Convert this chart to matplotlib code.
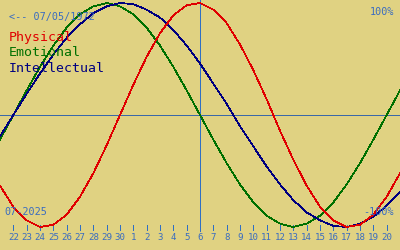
import matplotlib
matplotlib.use("Agg")
import matplotlib.pyplot as plt

# biorhythm values (%) for each day, June 21 .. July 21 2025
physical = [-63, -82, -94, -100, -98, -89, -73, -52, -27, 0,
            27, 52, 73, 89, 98, 100, 94, 82, 63, 40,
            14, -14, -40, -63, -82, -94, -100, -98, -89, -73, -52]
emotional = [-22, 0, 22, 43, 62, 78, 90, 97, 100, 97,
             90, 78, 62, 43, 22, 0, -22, -43, -62, -78,
             -90, -97, -100, -97, -90, -78, -62, -43, -22, 0, 22]
intellectual = [-19, 0, 19, 37, 54, 69, 81, 91, 97, 100,
                99, 94, 87, 76, 62, 46, 28, 10, -10, -28,
                -46, -62, -76, -87, -94, -99, -100, -97, -91, -81, -69]
day_labels = ["22", "23", "24", "25", "26", "27", "28", "29", "30",
              "1", "2", "3", "4", "5", "6", "7", "8", "9", "10",
              "11", "12", "13", "14", "15", "16", "17", "18", "19", "20"]
today = 15
birth = "07/05/1972"
month = "07-2025"

bg = "#e0d282"
txt_blue = "#3a6cc0"
W, H = 400, 250

plt.rcParams["font.family"] = "DejaVu Sans Mono"

fig = plt.figure(figsize=(4, 2.5), dpi=100)
fig.patch.set_facecolor(bg)
ax = fig.add_axes([0, 0, 1, 1])
ax.set_facecolor(bg)
ax.set_axis_off()

# pixel helpers: 0% at y=115, 100% = 112 px
def yv(py):
    return (115 - py) * 100 / 112

ax.set_xlim(0, 30)
ax.set_ylim(yv(250), yv(0))

days = list(range(len(physical)))
px = 0.5

ax.axhline(0, color="#3a68a8", lw=px, antialiased=False)
ax.vlines(today, yv(231), yv(0), color="#2f6fc4", lw=px, antialiased=False)
ticks = list(range(1, len(day_labels) + 1))
ax.vlines(ticks, yv(230), yv(225), color="#2f6fc4", lw=px, antialiased=False)
for t, lab in zip(ticks, day_labels):
    ax.text(t, yv(238), lab, color=txt_blue, fontsize=6.6,
            ha="center", va="center")

ax.plot(days, emotional, color="#007000", lw=px, antialiased=False)
ax.plot(days, intellectual, color="#000080", lw=px, antialiased=False)
ax.plot(days, physical, color="#e00000", lw=px, antialiased=False)

def label(x, y, s, color, size, ha="left"):
    ax.text(x / W, 1 - y / H, s, color=color, fontsize=size, ha=ha,
            va="center", transform=ax.transAxes)

label(9, 17, "<-- " + birth, txt_blue, 7.3)
label(9, 38, "Physical", "#e00000", 9.5)
label(9, 53, "Emotional", "#007000", 9.5)
label(9, 68, "Intellectual", "#000080", 9.5)
label(394, 12, "100%", txt_blue, 7.3, ha="right")
label(394, 212, "-100%", txt_blue, 7.3, ha="right")
label(4, 212, month, txt_blue, 7.3)

fig.savefig("out.png", dpi=100, facecolor=bg)
